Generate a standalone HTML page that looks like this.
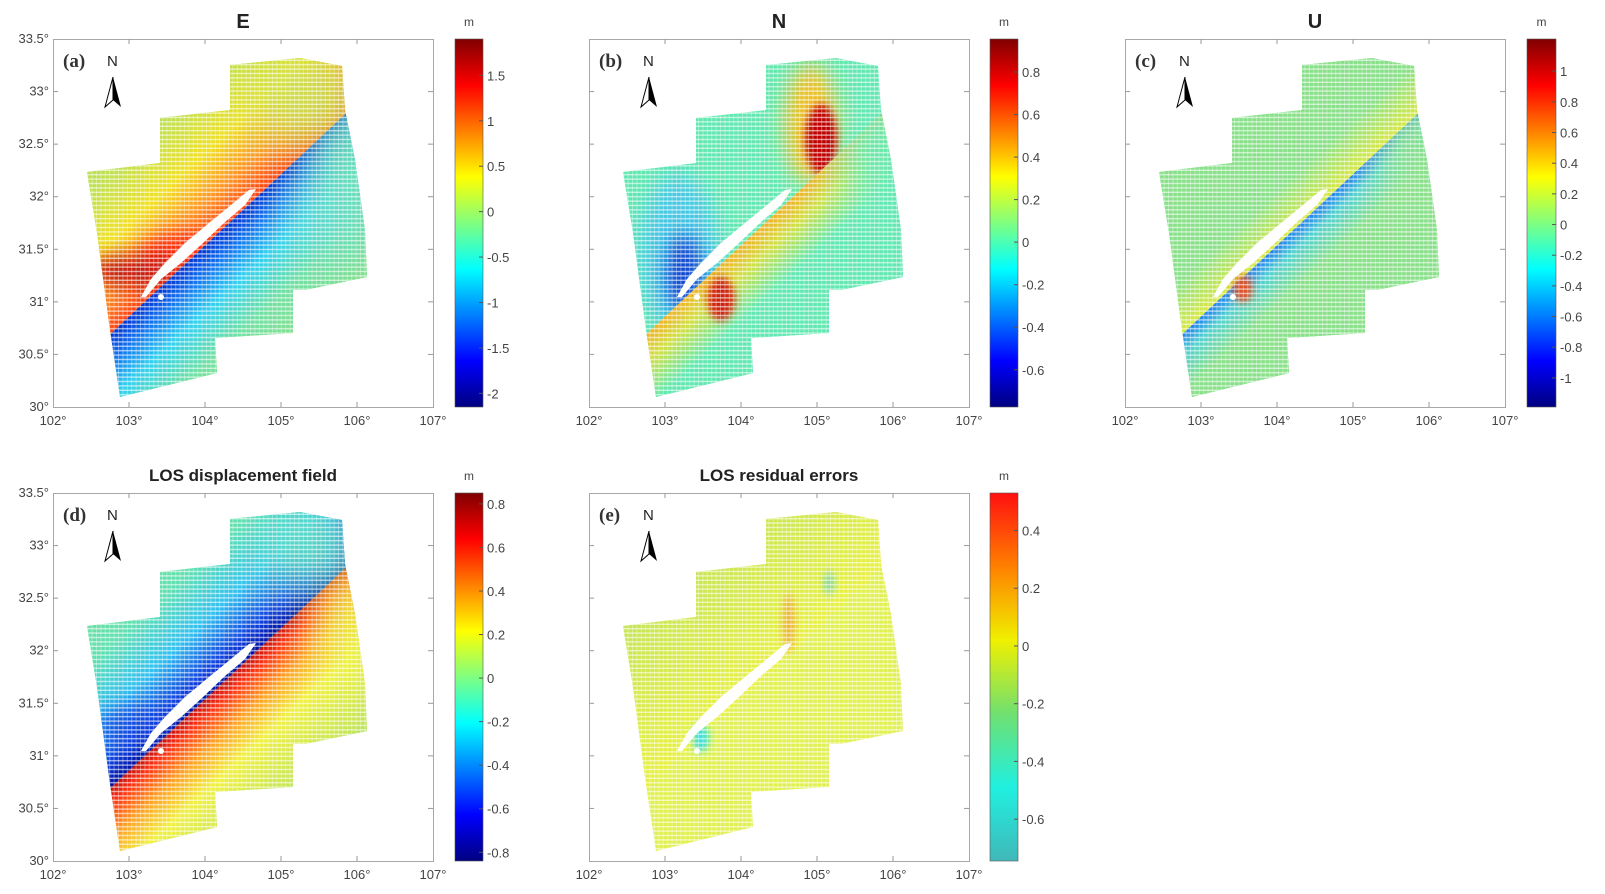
<!DOCTYPE html>
<html><head><meta charset="utf-8"><style>
html,body{margin:0;padding:0;background:#fff;overflow:hidden;width:1605px;height:894px;}
svg{display:block;font-family:"Liberation Sans",sans-serif;}
</style></head><body>
<svg id="s" width="1605" height="894" viewBox="0 0 1605 894" xmlns="http://www.w3.org/2000/svg">
<defs>
<polygon id="shp" points="34,133 107,124 107,79 177,71 177,26 247,19 289,27 292,71 302,121 312,191 314,238 252,251 240,251 240,294 162,299 164,334 67,358 57,291 44,194"/>
<clipPath id="cp"><use href="#shp"/></clipPath>
<clipPath id="nw"><polygon points="-200,536 600,-213 -200,-213"/></clipPath>
<clipPath id="se"><polygon points="-200,536 600,-213 600,700 -200,700"/></clipPath>
<filter id="bl" x="-50%" y="-50%" width="200%" height="200%"><feGaussianBlur stdDeviation="10"/></filter>
<filter id="bl3" x="-50%" y="-50%" width="200%" height="200%"><feGaussianBlur stdDeviation="22"/></filter>
<filter id="bl2" x="-50%" y="-50%" width="200%" height="200%"><feGaussianBlur stdDeviation="4"/></filter>
<pattern id="dots" patternUnits="userSpaceOnUse" width="4.4" height="4.4"><rect x="0" y="3" width="4.4" height="1.4" fill="#fff" opacity="0.6"/><rect x="3.4" y="0" width="1" height="4.4" fill="#fff" opacity="0.35"/></pattern>
<linearGradient id="jet" x1="0" y1="1" x2="0" y2="0"><stop offset="0" stop-color="#000080"/><stop offset="0.125" stop-color="#0000ff"/><stop offset="0.375" stop-color="#00ffff"/><stop offset="0.5" stop-color="#80ff80"/><stop offset="0.625" stop-color="#ffff00"/><stop offset="0.875" stop-color="#ff0000"/><stop offset="1" stop-color="#800000"/></linearGradient>
<linearGradient id="ecb" x1="0" y1="1" x2="0" y2="0"><stop offset="0" stop-color="#40b8b8"/><stop offset="0.2" stop-color="#20f0e0"/><stop offset="0.4" stop-color="#70e070"/><stop offset="0.6" stop-color="#f0f000"/><stop offset="0.8" stop-color="#ff8000"/><stop offset="1" stop-color="#ff1010"/></linearGradient>
<linearGradient id="aNW" gradientUnits="userSpaceOnUse" x1="192" y1="169" x2="60" y2="28"><stop offset="0" stop-color="#ff4010"/><stop offset="0.15" stop-color="#ff9020"/><stop offset="0.35" stop-color="#f0e020"/><stop offset="0.6" stop-color="#c0e050"/><stop offset="1" stop-color="#a8e05a"/></linearGradient>
<linearGradient id="aSE" gradientUnits="userSpaceOnUse" x1="192" y1="169" x2="302" y2="287"><stop offset="0" stop-color="#0030d0"/><stop offset="0.12" stop-color="#1070f0"/><stop offset="0.3" stop-color="#30d0f0"/><stop offset="0.55" stop-color="#70e0a0"/><stop offset="1" stop-color="#90e080"/></linearGradient>
<linearGradient id="bSE" gradientUnits="userSpaceOnUse" x1="192" y1="169" x2="230" y2="210"><stop offset="0" stop-color="#f0b020"/><stop offset="0.4" stop-color="#d0e040"/><stop offset="1" stop-color="#60e8b0"/></linearGradient>
<linearGradient id="cNW" gradientUnits="userSpaceOnUse" x1="192" y1="169" x2="165" y2="140"><stop offset="0" stop-color="#d8e840"/><stop offset="1" stop-color="#88e088"/></linearGradient>
<linearGradient id="cSE" gradientUnits="userSpaceOnUse" x1="192" y1="169" x2="222" y2="201"><stop offset="0" stop-color="#2080f0"/><stop offset="0.35" stop-color="#50d0d0"/><stop offset="1" stop-color="#88e088"/></linearGradient>
<linearGradient id="dNW" gradientUnits="userSpaceOnUse" x1="192" y1="169" x2="62" y2="30"><stop offset="0" stop-color="#0010a0"/><stop offset="0.1" stop-color="#1040e0"/><stop offset="0.3" stop-color="#30c0f0"/><stop offset="0.55" stop-color="#60e0b0"/><stop offset="1" stop-color="#80e090"/></linearGradient>
<linearGradient id="dSE" gradientUnits="userSpaceOnUse" x1="192" y1="169" x2="294" y2="278"><stop offset="0" stop-color="#c01010"/><stop offset="0.08" stop-color="#ff3010"/><stop offset="0.25" stop-color="#ffa020"/><stop offset="0.45" stop-color="#f0f040"/><stop offset="1" stop-color="#b0e060"/></linearGradient>
<linearGradient id="eNW" gradientUnits="userSpaceOnUse" x1="192" y1="169" x2="62" y2="30"><stop offset="0" stop-color="#e8f040"/><stop offset="1" stop-color="#b8e060"/></linearGradient>
</defs>
<g id="root"></g>
</svg>
<script>
var P=[
 {x:53,y:39,cb:455,t:"E",l:"(a)",tf:20,cbf:"jet",vt:1.90,vb:-2.15,ticks:[1.5,1,0.5,0,-0.5,-1,-1.5,-2]},
 {x:589,y:39,cb:990,t:"N",l:"(b)",tf:20,cbf:"jet",vt:0.955,vb:-0.775,ticks:[0.8,0.6,0.4,0.2,0,-0.2,-0.4,-0.6]},
 {x:1125,y:39,cb:1527,t:"U",l:"(c)",tf:20,cbf:"jet",vt:1.21,vb:-1.19,ticks:[1,0.8,0.6,0.4,0.2,0,-0.2,-0.4,-0.6,-0.8,-1]},
 {x:53,y:493,cb:455,t:"LOS displacement field",l:"(d)",tf:17,cbf:"jet",vt:0.85,vb:-0.84,ticks:[0.8,0.6,0.4,0.2,0,-0.2,-0.4,-0.6,-0.8]},
 {x:589,y:493,cb:990,t:"LOS residual errors",l:"(e)",tf:17,cbf:"ecb",vt:0.53,vb:-0.745,ticks:[0.4,0.2,0,-0.2,-0.4,-0.6]}
];
var W=380,H=368;
var content=[
'<rect x="0" y="0" width="400" height="400" fill="#a8e05a"/><g clip-path="url(#nw)"><rect x="-50" y="-50" width="500" height="500" fill="url(#aNW)"/><ellipse cx="130" cy="215" rx="45" ry="22" fill="#ff3010" filter="url(#bl)"/><ellipse cx="80" cy="232" rx="50" ry="15" fill="#c01010" filter="url(#bl)"/><ellipse cx="255" cy="60" rx="60" ry="50" fill="#c8e050" filter="url(#bl3)" opacity="0.9"/></g><g clip-path="url(#se)"><rect x="-50" y="-50" width="500" height="500" fill="url(#aSE)"/><ellipse cx="300" cy="130" rx="45" ry="70" fill="#70e0b0" filter="url(#bl3)" opacity="0.9"/><ellipse cx="270" cy="180" rx="40" ry="40" fill="#60d8d0" filter="url(#bl3)" opacity="0.6"/></g>',
'<rect x="0" y="0" width="400" height="400" fill="#60e8b0"/><g clip-path="url(#nw)"><ellipse cx="90" cy="215" rx="40" ry="80" fill="#40c0f0" filter="url(#bl)" opacity="0.8"/><ellipse cx="95" cy="235" rx="18" ry="40" fill="#1040d0" filter="url(#bl)"/><ellipse cx="222" cy="85" rx="26" ry="60" fill="#f0c020" filter="url(#bl)"/><ellipse cx="232" cy="100" rx="16" ry="35" fill="#c00000" filter="url(#bl2)"/></g><g clip-path="url(#se)"><rect x="-50" y="-50" width="500" height="500" fill="url(#bSE)"/><ellipse cx="132" cy="260" rx="14" ry="22" fill="#d02010" filter="url(#bl2)"/><ellipse cx="290" cy="110" rx="40" ry="60" fill="#60e8b0" filter="url(#bl3)"/></g>',
'<rect x="0" y="0" width="400" height="400" fill="#88e088"/><g clip-path="url(#nw)"><rect x="-50" y="-50" width="500" height="500" fill="url(#cNW)"/></g><g clip-path="url(#se)"><rect x="-50" y="-50" width="500" height="500" fill="url(#cSE)"/><ellipse cx="290" cy="110" rx="35" ry="55" fill="#88e088" filter="url(#bl3)"/></g><ellipse cx="118" cy="250" rx="10" ry="14" fill="#e05020" filter="url(#bl2)"/>',
'<rect x="0" y="0" width="400" height="400" fill="#80e090"/><g clip-path="url(#nw)"><rect x="-50" y="-50" width="500" height="500" fill="url(#dNW)"/><ellipse cx="80" cy="232" rx="40" ry="20" fill="#1040e0" filter="url(#bl)" opacity="0.7"/><ellipse cx="260" cy="55" rx="55" ry="45" fill="#60e0c0" filter="url(#bl3)" opacity="0.9"/></g><g clip-path="url(#se)"><rect x="-50" y="-50" width="500" height="500" fill="url(#dSE)"/><ellipse cx="300" cy="125" rx="40" ry="60" fill="#e8f040" filter="url(#bl3)" opacity="0.8"/></g>',
'<rect x="0" y="0" width="400" height="400" fill="#e0f050"/><g clip-path="url(#nw)"><rect x="-50" y="-50" width="500" height="500" fill="url(#eNW)"/></g><ellipse cx="112" cy="245" rx="8" ry="14" fill="#30e0e0" filter="url(#bl2)"/><ellipse cx="200" cy="130" rx="6" ry="30" fill="#f0a030" filter="url(#bl2)" opacity="0.8"/><ellipse cx="240" cy="90" rx="5" ry="12" fill="#60d0c0" filter="url(#bl2)" opacity="0.8"/>'
];
var gap='<polygon points="93,258 108,240 128,224 150,204 172,183 192,166 203,150 196,151 178,166 156,184 132,204 112,224 98,240 88,258" fill="#fff"/><circle cx="108" cy="258" r="3" fill="#fff"/>';
var out='';
function f(v){return v<0?'-'+String(-v):String(v);}
P.forEach(function(p,i){
 var g='<g transform="translate('+p.x+','+p.y+')">';
 g+='<g clip-path="url(#cp)">'+content[i]+'<rect x="0" y="0" width="400" height="400" fill="url(#dots)"/></g>';
 g+=gap;
 g+='<rect x="0.5" y="0.5" width="'+W+'" height="'+H+'" fill="none" stroke="#a8a8a8" stroke-width="1"/>';
 for(var k=1;k<5;k++){var xx=k*W/5;g+='<line x1="'+xx+'" y1="'+H+'" x2="'+xx+'" y2="'+(H-5)+'" stroke="#999"/><line x1="'+xx+'" y1="0" x2="'+xx+'" y2="5" stroke="#999"/>';}
 for(var k=1;k<7;k++){var yy=k*H/7;g+='<line x1="0" y1="'+yy+'" x2="5" y2="'+yy+'" stroke="#999"/><line x1="'+W+'" y1="'+yy+'" x2="'+(W-5)+'" y2="'+yy+'" stroke="#999"/>';}
 for(var k=0;k<6;k++){g+='<text x="'+(k*W/5)+'" y="'+(H+18)+'" font-size="13" fill="#444" text-anchor="middle">'+(102+k)+'°</text>';}
 if(i==0||i==3){var labs=["33.5°","33°","32.5°","32°","31.5°","31°","30.5°","30°"];for(var k=0;k<8;k++){g+='<text x="-4" y="'+(k*H/7+4)+'" font-size="13" fill="#444" text-anchor="end">'+labs[k]+'</text>';}}
 g+='<text x="'+(W/2)+'" y="'+(i<3?-11:-12)+'" font-size="'+p.tf+'" font-weight="bold" fill="#222" text-anchor="middle">'+p.t+'</text>';
 g+='<text x="10" y="28" font-family="Liberation Serif,serif" font-size="19" font-weight="bold" fill="#333">'+p.l+'</text>';
 g+='<text x="54" y="27" font-size="15" fill="#222">N</text>';
 g+='<polygon points="60,38 52,68 60,61" fill="#fff" stroke="#000" stroke-width="1"/><polygon points="60,38 68,68 60,61" fill="#000"/>';
 g+='</g>';
 var cx=p.cb, cw=(i==2?29:28);
 g+='<rect x="'+cx+'" y="'+p.y+'" width="'+cw+'" height="'+H+'" fill="url(#'+p.cbf+')" stroke="#555" stroke-width="0.6"/>';
 g+='<text x="'+(cx+cw/2)+'" y="'+(p.y-13)+'" font-size="12" fill="#444" text-anchor="middle">m</text>';
 p.ticks.forEach(function(v){var yy=p.y+(p.vt-v)/(p.vt-p.vb)*H;g+='<line x1="'+(cx+cw-4)+'" y1="'+yy+'" x2="'+(cx+cw)+'" y2="'+yy+'" stroke="#555"/><text x="'+(cx+cw+4)+'" y="'+(yy+5)+'" font-size="13" fill="#444">'+f(v)+'</text>';});
 out+=g;
});
document.getElementById('root').innerHTML=out;
</script>
</body></html>
